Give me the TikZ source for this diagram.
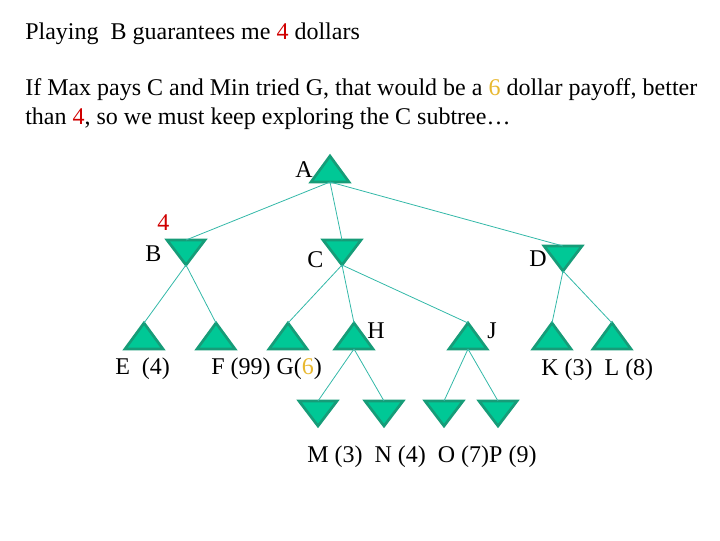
\documentclass[tikz,border=0pt]{standalone}
\usepackage{fontspec}
\setmainfont{Liberation Serif}
\definecolor{trifill}{HTML}{00C896}
\definecolor{triedge}{HTML}{169C78}
\definecolor{edgecol}{HTML}{33B8A8}
\definecolor{redval}{HTML}{D00000}
\definecolor{goldval}{HTML}{E8B830}
\tikzset{
  tri/.style={fill=trifill,draw=triedge,line width=2pt,line join=miter},
  edge/.style={draw=edgecol,line width=0.6pt},
  lbl/.style={anchor=base west,inner sep=0pt,font=\fontsize{18}{22}\selectfont},
}
\newcommand{\uptri}[3]{%
  \path[tri] (#2,#3) -- (#2-19,#3+26) -- (#2+19,#3+26) -- cycle;
  \coordinate (#1-t) at (#2,#3);
  \coordinate (#1-b) at (#2,#3+26);}
\newcommand{\dntri}[3]{%
  \path[tri] (#2-19,#3) -- (#2+19,#3) -- (#2,#3+25) -- cycle;
  \coordinate (#1-t) at (#2,#3);
  \coordinate (#1-b) at (#2,#3+25);}
\begin{document}
\begin{tikzpicture}[x=0.75pt,y=-0.75pt]
\useasboundingbox (0,0) rectangle (720,540);
% triangles
\uptri{A}{330}{156}
\dntri{B}{186}{240}
\dntri{C}{342}{240}
\dntri{D}{563}{246}
\uptri{E}{144}{323}
\uptri{F}{216}{323}
\uptri{G}{288}{323}
\uptri{H}{354}{323}
\uptri{J}{468}{323}
\uptri{K}{552}{323}
\uptri{L}{612}{323}
\dntri{M}{318}{401}
\dntri{N}{384}{401}
\dntri{O}{444}{401}
\dntri{P}{498}{401}
% edges
\draw[edge] (A-b) -- (B-t);
\draw[edge] (A-b) -- (C-t);
\draw[edge] (A-b) -- (D-t);
\draw[edge] (B-b) -- (E-t);
\draw[edge] (B-b) -- (F-t);
\draw[edge] (C-b) -- (G-t);
\draw[edge] (C-b) -- (H-t);
\draw[edge] (C-b) -- (J-t);
\draw[edge] (D-b) -- (K-t);
\draw[edge] (D-b) -- (L-t);
\draw[edge] (H-b) -- (M-t);
\draw[edge] (H-b) -- (N-t);
\draw[edge] (J-b) -- (O-t);
\draw[edge] (J-b) -- (P-t);
% texts
\node[lbl] (t1) at (25,39) {Playing\ \ B guarantees me \textcolor{redval}{4} dollars};
\node[lbl] (t2) at (25,95) {If Max pays C and Min tried G, that would be a \textcolor{goldval}{6} dollar payoff, better};
\node[lbl] (t3) at (25,124) {than \textcolor{redval}{4}, so we must keep exploring the C subtree…};
\node[lbl] (lA) at (295,177) {A};
\node[lbl] (l4) at (157,230) {\textcolor{redval}{4}};
\node[lbl] (lB) at (145,261) {B};
\node[lbl] (lC) at (307,267) {C};
\node[lbl] (lD) at (529,266) {D};
\node[lbl] (lH) at (367,338) {H};
\node[lbl] (lJ) at (487,338) {J};
\node[lbl] (lE) at (115,374) {E\ \ (4)};
\node[lbl] (lFG) at (211,374) {F (99) G(\textcolor{goldval}{6})};
\node[lbl] (lKL) at (541,375) {K (3)\ \ L (8)};
\node[lbl] (lMP) at (307,462) {M (3)\ \ N (4)\ \ O (7)P (9)};
\end{tikzpicture}
\end{document}
